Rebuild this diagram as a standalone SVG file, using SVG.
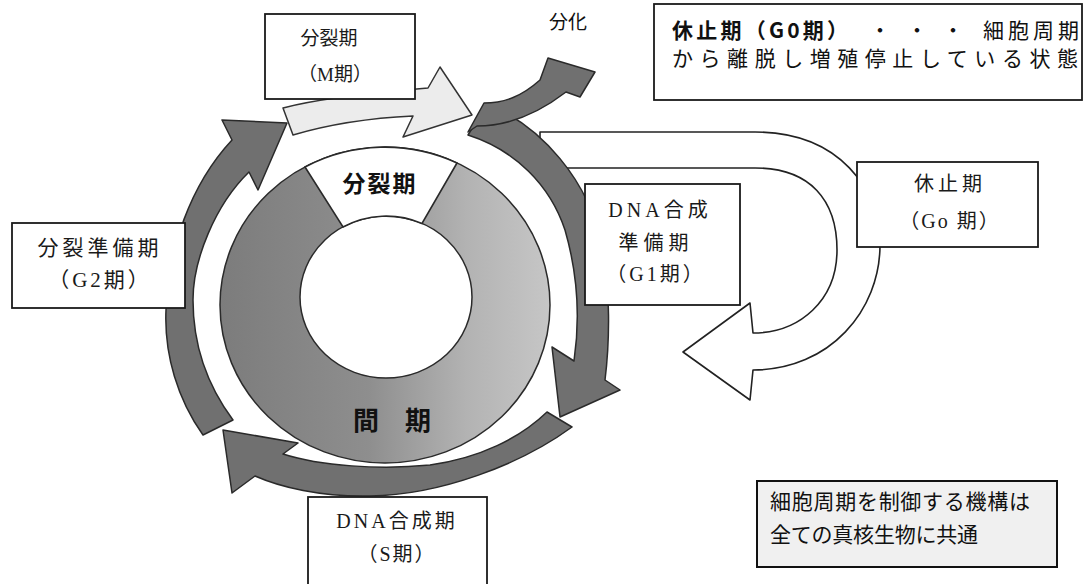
<svg xmlns="http://www.w3.org/2000/svg" width="1091" height="584" viewBox="0 0 1091 584">
<style>
.box{fill:#fff;stroke:#1a1a1a;stroke-width:1.8}
.lbl{font-family:"Liberation Serif","Noto Sans CJK JP",serif;fill:#1a1a1a;text-anchor:middle}
.goth{font-family:"Noto Sans CJK JP","Liberation Sans",sans-serif;fill:#111}
.arr{fill:#707070;stroke:#2a2a2a;stroke-width:1.5;stroke-linejoin:round}
.arrl{fill:#ececec;stroke:#333;stroke-width:1.5;stroke-linejoin:round}
.arrw{fill:#fff;stroke:#222;stroke-width:1.6;stroke-linejoin:round}
</style>
<defs>
<linearGradient id="ringGrad" x1="0" y1="0" x2="1" y2="0">
<stop offset="0" stop-color="#7c7c7c"/>
<stop offset="0.45" stop-color="#8e8e8e"/>
<stop offset="0.75" stop-color="#b3b3b3"/>
<stop offset="1" stop-color="#c6c6c6"/>
</linearGradient>
</defs>
<rect width="1091" height="584" fill="#fff"/>

<g id="connectors">
<path id="arrow-go" class="arrw" d="M540,132 L755,132 C840,132 880,190 880,245 C880,310 830,370 753,370 L750,400 L683,352 L750,303 L753,333 C800,333 837,300 837,250 C837,200 810,168 755,168 L540,168 Z"/>
</g>

<g id="ring">
<path d="M220,305 A165,158 0 1 0 550,305 A165,158 0 1 0 220,305 Z M300,297 A86,81 0 1 1 472,297 A86,81 0 1 1 300,297 Z" fill="url(#ringGrad)" fill-rule="evenodd" stroke="#2a2a2a" stroke-width="1.5"/>
<path d="M305,167 A165,158 0 0 1 457,163 L422,223.5 A86,81 0 0 0 343,227 Z" fill="#fff" stroke="#2a2a2a" stroke-width="1.6"/>
<text class="goth" x="380" y="192" font-size="23" font-weight="bold" text-anchor="middle" letter-spacing="2">分裂期</text>
<text class="goth" x="366 418" y="430" font-size="26" font-weight="bold" text-anchor="middle">間期</text>
</g>

<g id="cycle-arrows">
<path id="arrow-g2" class="arr" d="M203,435 C178,400 164,355 166,310 C168,250 190,185 232,140 L222,120 L287,123 L258,190 L249,172 C215,205 193,260 193,300 C193,345 207,385 233,420 Z"/>
<path id="arrow-s" class="arr" d="M547,412 L572,427 C520,465 440,495 370,496 C320,497 280,487 255,476 L232,493 L223,430 L298,443 L283,454 C320,466 380,470 430,465 C480,458 520,438 547,412 Z"/>
<path id="arrow-m" class="arrl" d="M283,108 C320,98 380,92 428,88 L440,67 L472,115 L403,137 L413,116 C370,118 330,124 293,135 Z"/>
<path id="arrow-g1" class="arr" d="M487,104 C540,125 590,180 603,250 C610,290 610,340 605,380 L620,390 L560,417 L552,347 L574,361 C580,320 578,275 565,230 C550,185 515,150 468,135 Z"/>
<path id="arrow-diff" class="arr" d="M468,132 L484,103 C505,103 522,96 540,80 L548,58 L595,72 L580,97 L566,92 C540,112 510,126 477,126 Z"/>
</g>

<g id="node-m">
<rect class="box" x="265" y="14" width="150" height="85"/>
<text class="lbl" x="329" y="45" font-size="19">分裂期</text>
<text class="lbl" x="335" y="81" font-size="19">（M期）</text>
</g>

<g id="node-diff">
<text class="goth" x="568" y="29" font-size="19" text-anchor="middle">分化</text>
</g>

<g id="node-g0-note">
<rect class="box" x="654" y="4" width="428" height="96" stroke-width="2"/>
<text class="goth" x="672" y="38" font-size="21" font-weight="bold" textLength="176" lengthAdjust="spacing">休止期（G0期）</text>
<text class="goth" x="880 917 953" y="38" font-size="21" text-anchor="middle">・・・</text>
<text class="goth" x="983" y="38" font-size="21" textLength="96" lengthAdjust="spacing">細胞周期</text>
<text class="goth" x="672" y="66" font-size="21" textLength="406" lengthAdjust="spacing">から離脱し増殖停止している状態</text>
</g>

<g id="node-g1">
<rect class="box" x="585" y="184" width="155" height="121"/>
<text class="lbl" x="660" y="217" font-size="20" letter-spacing="4">DNA合成</text>
<text class="lbl" x="656" y="250" font-size="20" letter-spacing="5">準備期</text>
<text class="lbl" x="656" y="281" font-size="20" letter-spacing="3">（G1期）</text>
</g>

<g id="node-go">
<rect class="box" x="857" y="162" width="181" height="85"/>
<text class="lbl" x="950" y="191" font-size="20" letter-spacing="4">休止期</text>
<text class="lbl" x="950" y="228" font-size="20" letter-spacing="2">（Go 期）</text>
</g>

<g id="node-g2">
<rect class="box" x="12" y="223" width="173" height="85"/>
<text class="lbl" x="100" y="255" font-size="21" letter-spacing="4">分裂準備期</text>
<text class="lbl" x="100" y="287" font-size="21" letter-spacing="3">（G2期）</text>
</g>

<g id="node-s">
<rect class="box" x="308" y="497" width="179" height="100"/>
<text class="lbl" x="397" y="528" font-size="20" letter-spacing="3">DNA合成期</text>
<text class="lbl" x="397" y="561" font-size="20" letter-spacing="2">（S期）</text>
</g>

<g id="node-note">
<rect x="757" y="481" width="300" height="86" fill="#f0f0f0" stroke="#111" stroke-width="2"/>
<text class="goth" x="770" y="509" font-size="21" textLength="260" lengthAdjust="spacing">細胞周期を制御する機構は</text>
<text class="goth" x="770" y="542" font-size="21" textLength="208" lengthAdjust="spacing">全ての真核生物に共通</text>
</g>
</svg>
